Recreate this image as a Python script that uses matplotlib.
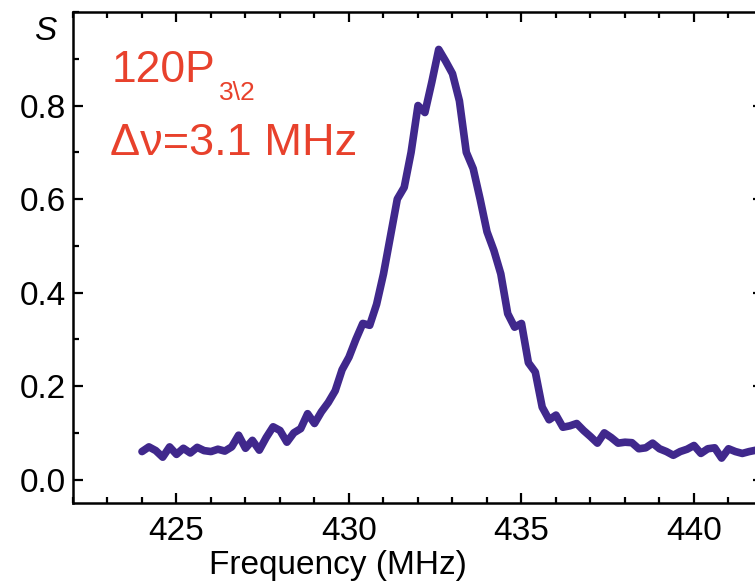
import matplotlib
matplotlib.use("Agg")
import matplotlib.pyplot as plt
from matplotlib.ticker import MultipleLocator

plt.rcParams['font.family'] = ['Liberation Sans', 'DejaVu Sans']

freq_start = 424.0
freq_step = 0.2
signal = [
    0.060, 0.070, 0.062, 0.048, 0.070, 0.054, 0.067, 0.057, 0.069, 0.062,
    0.060, 0.065, 0.061, 0.070, 0.095, 0.067, 0.084, 0.063, 0.090, 0.113,
    0.105, 0.080, 0.100, 0.109, 0.141, 0.120, 0.145, 0.165, 0.190, 0.235,
    0.262, 0.300, 0.334, 0.330, 0.375, 0.440, 0.520, 0.600, 0.625, 0.700,
    0.800, 0.785, 0.850, 0.920, 0.895, 0.868, 0.810, 0.700, 0.665, 0.600,
    0.530, 0.490, 0.440, 0.355, 0.326, 0.334, 0.250, 0.230, 0.155, 0.128,
    0.138, 0.112, 0.115, 0.120, 0.105, 0.092, 0.078, 0.100, 0.090, 0.078,
    0.080, 0.079, 0.066, 0.068, 0.078, 0.066, 0.060, 0.052, 0.060, 0.065,
    0.073, 0.056, 0.066, 0.068, 0.046, 0.066, 0.060, 0.056, 0.060, 0.063,
    0.063,
]
frequency = [round(freq_start + i * freq_step, 2) for i in range(len(signal))]

x_ticks = [425, 430, 435, 440]
y_ticks = [0.0, 0.2, 0.4, 0.6, 0.8]

W, H = 755, 581
fig = plt.figure(figsize=(W / 100, H / 100), dpi=100)
ax = fig.add_axes([73 / W, 1 - 503 / H, 690 / W, 491 / H])

ax.plot(frequency, signal, color='#40288c', lw=5.5, solid_joinstyle='round',
        solid_capstyle='round')

ax.set_xlim(422, 442)
ax.set_ylim(-0.05, 1.0)
ax.set_xticks(x_ticks)
ax.set_xticklabels([str(t) for t in x_ticks])
ax.set_yticks(y_ticks)
ax.set_yticklabels([f"{t:.1f}" for t in y_ticks])
ax.xaxis.set_minor_locator(MultipleLocator(1))
ax.yaxis.set_minor_locator(MultipleLocator(0.1))
ax.tick_params(which='both', direction='in', top=True, right=True,
               width=1.6, labelsize=24, colors='black')
ax.tick_params(axis='x', pad=9)
ax.tick_params(axis='y', pad=5)
ax.tick_params(which='major', length=7.5)
ax.tick_params(which='minor', length=4.5)
for s in ax.spines.values():
    s.set_linewidth(1.8)

fig.text(338 / W, 1 - 581 / H, 'Frequency (MHz)', ha='center', va='bottom',
         fontsize=24)
fig.text(45 / W, 1 - 31 / H, 'S', ha='center', va='center', fontsize=24,
         style='italic')

red = '#e8412c'
fig.text(112 / W, 1 - 82 / H, '120P', ha='left', va='baseline', fontsize=32,
         color=red)
fig.text(219 / W, 1 - 100 / H, '3\\2', ha='left', va='baseline', fontsize=19,
         color=red)
fig.text(110 / W, 1 - 155 / H, '\u0394\u03bd=3.1 MHz', ha='left', va='baseline',
         fontsize=32.5, color=red)

fig.savefig('out.png', dpi=100)
